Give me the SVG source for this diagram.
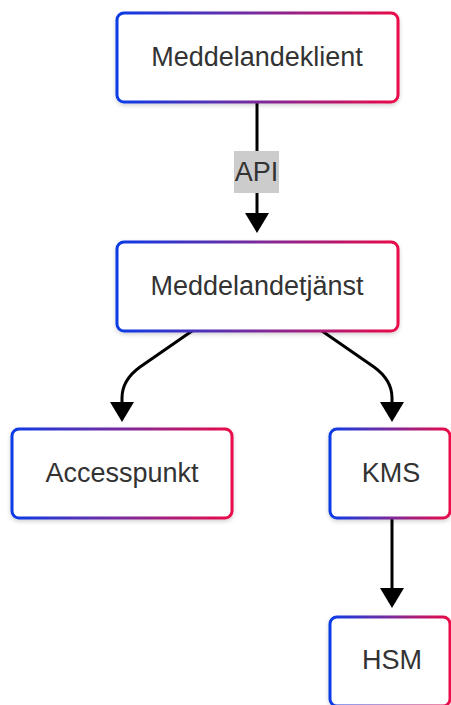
<svg xmlns="http://www.w3.org/2000/svg" width="451" height="705" viewBox="0 0 451 705">
  <defs>
    <linearGradient id="edge" x1="0" y1="0" x2="1" y2="0">
      <stop offset="0" stop-color="#0b3be6"/>
      <stop offset="0.5" stop-color="#7a2b9c"/>
      <stop offset="1" stop-color="#ea0a48"/>
    </linearGradient>
    <filter id="shadow" x="-10%" y="-10%" width="120%" height="130%">
      <feDropShadow dx="0" dy="2" stdDeviation="2" flood-color="#000" flood-opacity="0.18"/>
    </filter>
    <marker id="head" viewBox="0 0 20 24" refX="0" refY="12" markerWidth="20" markerHeight="24" markerUnits="userSpaceOnUse" orient="auto">
      <path d="M0,0 L20,12 L0,24 z" fill="#000"/>
    </marker>
  </defs>
  <style>
    .box { fill: #ffffff; stroke: url(#edge); stroke-width: 3; filter: url(#shadow); }
    .label { font-family: "Liberation Sans", Arial, sans-serif; font-size: 27px; fill: #333333; text-anchor: middle; }
    .edge { fill: none; stroke: #000000; stroke-width: 3; marker-end: url(#head); }
  </style>

  <g id="connectors">
    <path class="edge" d="M257,102 L257,213"/>
    <path class="edge" d="M192,331 L140,367 Q122,380 122,398 L122,402"/>
    <path class="edge" d="M322,331 L374,367 Q392,380 392,398 L392,402"/>
    <path class="edge" d="M392,518 L392,588"/>
    <g id="label-api">
      <rect x="234" y="151" width="45" height="42" fill="#cccccc"/>
      <text class="label" x="256.5" y="181">API</text>
    </g>
  </g>

  <g id="meddelandeklient">
    <rect class="box" x="117" y="13" width="281" height="89" rx="7"/>
    <text class="label" x="257" y="66">Meddelandeklient</text>
  </g>

  <g id="meddelandetjanst">
    <rect class="box" x="117" y="242" width="281" height="89" rx="7"/>
    <text class="label" x="257" y="295">Meddelandetjänst</text>
  </g>

  <g id="accesspunkt">
    <rect class="box" x="12" y="429" width="220" height="89" rx="7"/>
    <text class="label" x="122" y="482">Accesspunkt</text>
  </g>

  <g id="kms">
    <rect class="box" x="330" y="429" width="120" height="89" rx="7"/>
    <text class="label" x="391" y="482">KMS</text>
  </g>

  <g id="hsm">
    <rect class="box" x="330" y="617" width="120" height="89" rx="7"/>
    <text class="label" x="392" y="669">HSM</text>
  </g>
</svg>
